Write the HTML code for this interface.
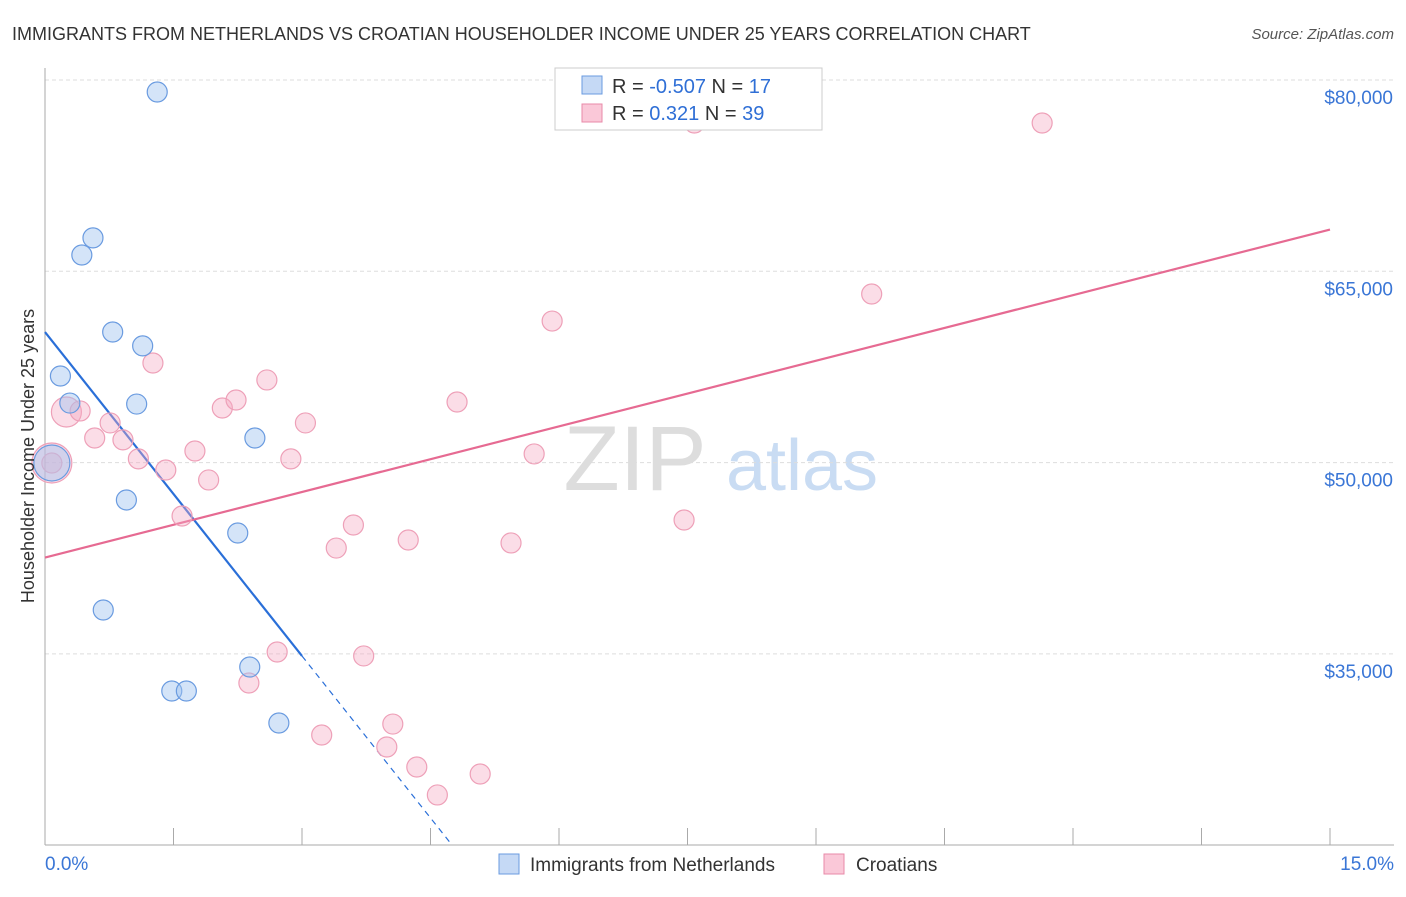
<!DOCTYPE html>
<html><head><meta charset="utf-8"><style>
body{margin:0;background:#fff;font-family:"Liberation Sans",sans-serif;}
svg text{font-family:"Liberation Sans",sans-serif;}
</style></head><body>
<svg id="chart" width="1406" height="892" xmlns="http://www.w3.org/2000/svg">
<text x="12" y="40" font-size="18" fill="#333">IMMIGRANTS FROM NETHERLANDS VS CROATIAN HOUSEHOLDER INCOME UNDER 25 YEARS CORRELATION CHART</text>
<text x="1394" y="39" font-size="15" fill="#555" font-style="italic" text-anchor="end">Source: ZipAtlas.com</text>
<g>
<text x="635" y="490" font-size="92" fill="#ddd" font-family="Liberation Serif" text-anchor="middle">ZIP</text>
<text x="802" y="490" font-size="72" fill="#c9dcf3" text-anchor="middle">atlas</text>
</g>
<g id="grid"></g><g id="axes"></g><g id="lines"></g><g id="pts"></g>
<text transform="translate(34,456) rotate(-90)" font-size="18" fill="#333" text-anchor="middle">Householder Income Under 25 years</text>
<g>
<rect x="555" y="68" width="267" height="62" fill="#fff" stroke="#ccc"/>
<rect x="582" y="76" width="20" height="18" fill="#c5d9f5" stroke="#6a9be0"/>
<rect x="582" y="104" width="20" height="18" fill="#fac8d8" stroke="#e88aa8"/>
<text x="612" y="93" font-size="20" fill="#333">R = <tspan fill="#2f6fd6">-0.507</tspan>   N =  <tspan fill="#2f6fd6">17</tspan></text>
<text x="612" y="120" font-size="20" fill="#333">R =    <tspan fill="#2f6fd6">0.321</tspan>   N = <tspan fill="#2f6fd6">39</tspan></text>
</g>
<g>
<rect x="499" y="854" width="20" height="20" fill="#c5d9f5" stroke="#6a9be0"/>
<text x="530" y="871" font-size="19" fill="#333">Immigrants from Netherlands</text>
<rect x="824" y="854" width="20" height="20" fill="#fac8d8" stroke="#e88aa8"/>
<text x="856" y="871" font-size="19" fill="#333">Croatians</text>
</g>
</svg>
<script>
const yTicks=[80000,65000,50000,35000];
const yTickLabels=["$80,000","$65,000","$50,000","$35,000"];
const xTickVals=[0,1.5,3,4.5,6,7.5,9,10.5,12,13.5,15];
const xEdgeLabels=["0.0%","15.0%"];
const blueX=[1.31,0.43,0.56,0.79,1.14,0.18,0.29,1.07,2.45,0.08,0.95,2.25,0.68,2.39,1.48,1.65,2.73];
const blueY=[79060,66280,67620,60240,59150,56790,54670,54590,51930,49970,47070,44480,38440,33970,32090,32090,29580];
const pinkX=[0.08,0.25,0.41,0.58,0.76,0.91,1.09,1.26,1.41,1.60,1.75,1.91,2.07,2.23,2.59,2.87,3.04,2.71,2.38,3.40,3.60,3.72,3.23,3.99,4.06,4.24,4.34,4.58,4.81,5.08,5.44,5.71,5.92,7.02,7.58,7.46,9.65,11.64,0.08];
const pinkY=[49970,53970,54050,51930,53110,51780,50290,57810,49420,45810,50910,48640,54280,54910,56480,50290,53110,35150,32720,43300,45110,34840,28640,27700,29500,43930,26130,23940,54750,25580,43700,50680,61100,78350,76630,45500,63220,76630,49970];
const blueR=[10,10,10,10,10,10,10,10,10,18,10,10,10,10,10,10,10];
const pinkR=[10,15,10,10,10,10,10,10,10,10,10,10,10,10,10,10,10,10,10,10,10,10,10,10,10,10,10,10,10,10,10,10,10,10,10,10,10,10,20];
const blueFit=[60240,-8467]; // intercept, slope per %
const pinkFit=[42550,1715];
const X=v=>45+v/15*1285, Y=v=>80+(80000-v)/15000*191.3;
const NS="http://www.w3.org/2000/svg";
function mk(p,t,a){const e=document.createElementNS(NS,t);for(const k in a)e.setAttribute(k,a[k]);document.getElementById(p).appendChild(e);return e;}
yTicks.forEach((v,i)=>{
 const g=mk('grid','line',{x1:45,x2:1394,y1:Y(v),y2:Y(v),stroke:'#ddd','stroke-dasharray':'4,3'});
 
 
 const t=mk('axes','text',{x:1393,y:Y(v)+24,'font-size':19,fill:'#3a76d6','text-anchor':'end'});t.textContent=yTickLabels[i];
 
 
});
let a=mk('axes','line',{x1:45,x2:45,y1:68,y2:845,stroke:'#aaa'});


a=mk('axes','line',{x1:45,x2:1394,y1:845,y2:845,stroke:'#aaa'});


xTickVals.forEach(v=>{const t=mk('axes','line',{x1:X(v),x2:X(v),y1:828,y2:845,stroke:'#aaa'});
 
 });
[[0,'start',45],[1,'end',1394]].forEach(([i,an,x])=>{const t=mk('axes','text',{x:x,y:870,'font-size':19,fill:'#3a76d6','text-anchor':an});t.textContent=xEdgeLabels[i];
 
 });
const bf=x=>blueFit[0]+blueFit[1]*x, pf=x=>pinkFit[0]+pinkFit[1]*x;
const xEnd=(20000-blueFit[0])/blueFit[1];
let l=mk('lines','line',{x1:X(0),y1:Y(bf(0)),x2:X(3),y2:Y(bf(3)),stroke:'#2a6fd8','stroke-width':2.2});


l=mk('lines','line',{x1:X(3),y1:Y(bf(3)),x2:X(xEnd),y2:Y(20000),stroke:'#2a6fd8','stroke-width':1.2,'stroke-dasharray':'6,5'});


l=mk('lines','line',{x1:X(0),y1:Y(pf(0)),x2:X(15),y2:Y(pf(15)),stroke:'#e66a92','stroke-width':2.2});


pinkX.forEach((x,i)=>{const c=mk('pts','circle',{cx:X(x),cy:Y(pinkY[i]),r:pinkR[i],fill:'rgba(246,170,195,0.4)',stroke:'#eea0b8','stroke-width':1.2});
 
 });
blueX.forEach((x,i)=>{const c=mk('pts','circle',{cx:X(x),cy:Y(blueY[i]),r:blueR[i],fill:'rgba(160,195,240,0.45)',stroke:'#6a9be0','stroke-width':1.2});
 
 });
</script>
</body></html>
